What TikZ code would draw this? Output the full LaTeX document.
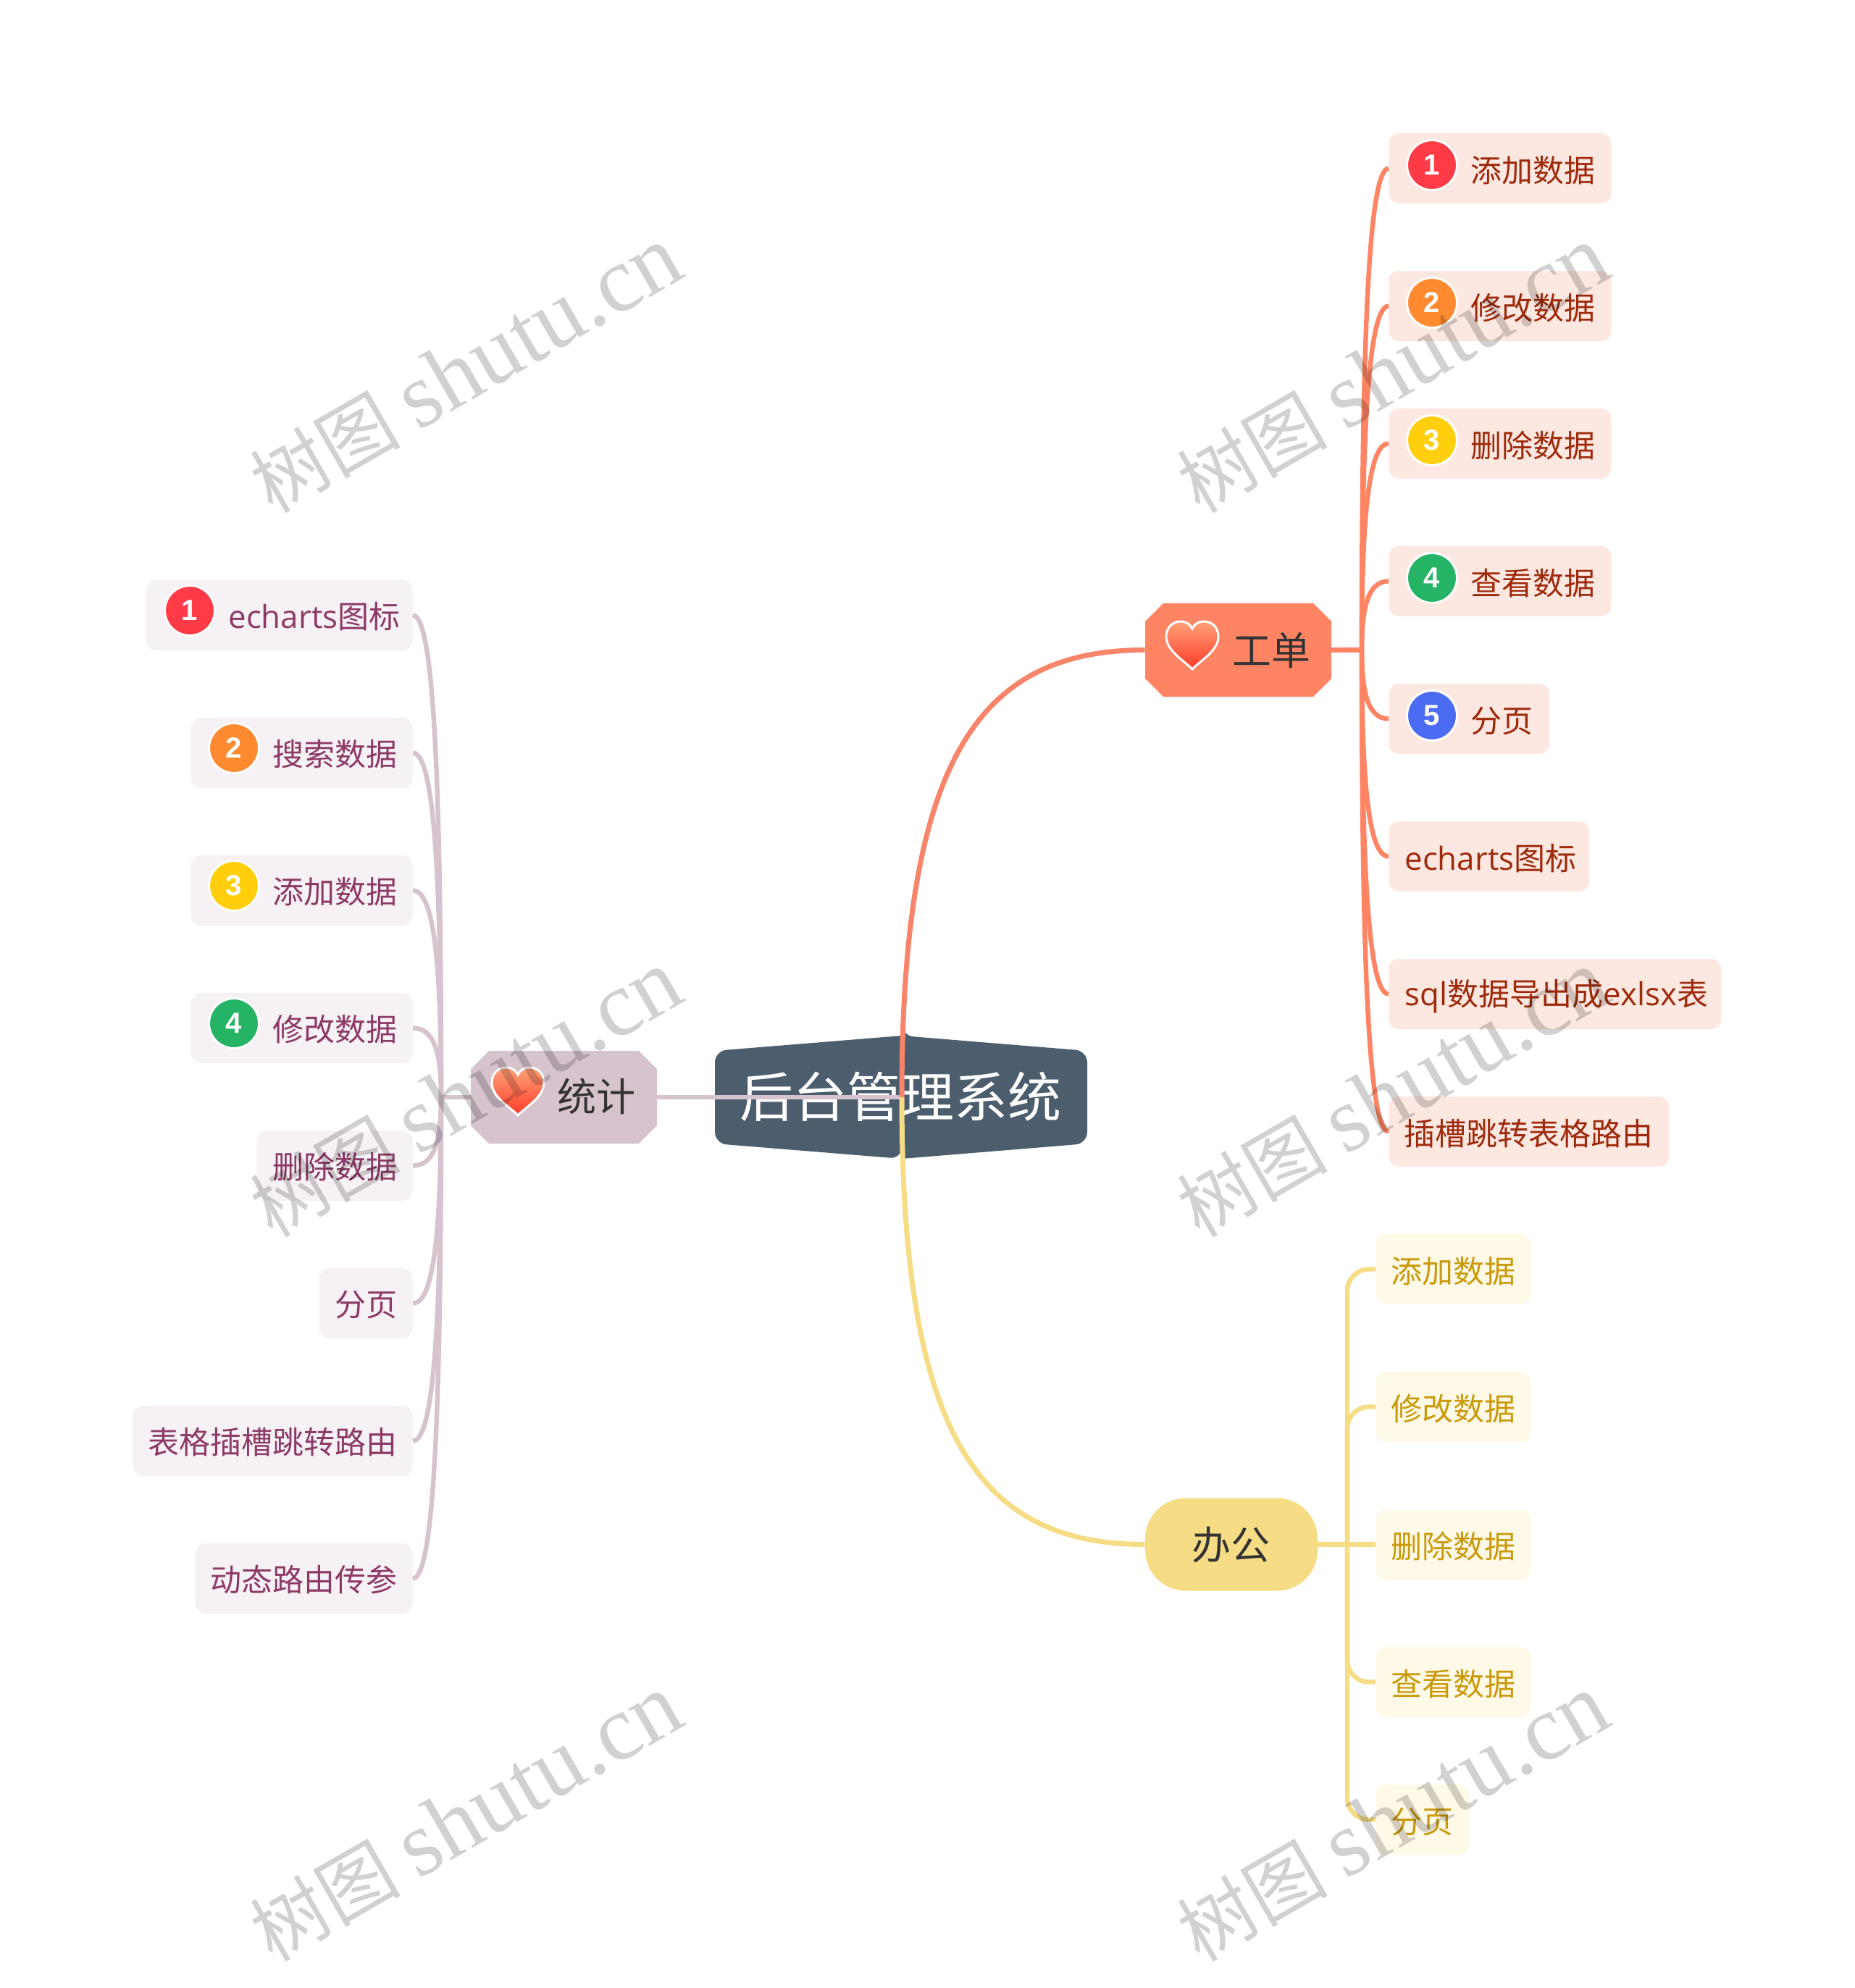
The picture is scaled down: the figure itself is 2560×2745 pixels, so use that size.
\documentclass[tikz,border=0pt]{standalone}
\usepackage{fontspec}
\setmainfont{Noto Sans CJK SC}
\newfontfamily\lat{Open Sans}[Scale=1.02]
\newfontfamily\wmlat{Liberation Serif}
\newfontfamily\badgefont{Liberation Sans}[BoldFont={Liberation Sans Bold}]
\usetikzlibrary{calc}
\definecolor{rootfill}{HTML}{4C5E6E}
\definecolor{coral}{HTML}{FF8464}
\definecolor{coralline}{HTML}{F8856A}
\definecolor{corallite}{HTML}{FDE8E1}
\definecolor{coraltext}{HTML}{9E2A0C}
\definecolor{pinkc}{HTML}{D6C3CD}
\definecolor{pinklite}{HTML}{F6F1F4}
\definecolor{pinktext}{HTML}{8C3A66}
\definecolor{yel}{HTML}{F6DC85}
\definecolor{yellite}{HTML}{FFF9E8}
\definecolor{yeltext}{HTML}{C99A0C}
\definecolor{bred}{HTML}{FF3B47}
\definecolor{borange}{HTML}{FF8A2F}
\definecolor{byellow}{HTML}{FFCF0D}
\definecolor{bgreen}{HTML}{25B366}
\definecolor{bblue}{HTML}{4A6BF2}
\definecolor{darktext}{HTML}{333333}
\tikzset{
  kidbox/.style={rectangle,rounded corners=7pt,inner sep=0pt,minimum height=48.5pt},
  kidtext/.style={inner sep=0pt,font=\fontsize{21.5}{26}\selectfont},
  branchtext/.style={inner sep=0pt,text=darktext,font=\fontsize{27}{32}\selectfont},
  badge/.style={circle,draw=white,line width=1.5pt,inner sep=0pt,minimum size=34.5pt,text=white,font=\badgefont\bfseries\fontsize{20}{22}\selectfont},
  link/.style={line width=3.2pt},
  wmark/.style={inner sep=0pt,anchor=base east,transform shape,text=black,text opacity=0.18},
}
% right coral child: name, centre y, right edge, text, text left x
\newcommand{\rkid}[5]{%
  \node[kidbox,fill=corallite,anchor=west,minimum width={(#3-1917)*0.5pt}] (#1) at (1917,#2) {};
  \node[kidtext,text=coraltext,anchor=west] (#1t) at (#5,#2+3) {#4};
  \draw[link,coral] (busR) .. controls (1880,{#2+0.4*(897.5-#2)}) and (1888,#2) .. (#1.west);
}
% left pink child: name, centre y, left edge, text, text right x
\newcommand{\lkid}[5]{%
  \node[kidbox,fill=pinklite,anchor=east,minimum width={(570-#3)*0.5pt}] (#1) at (570,#2) {};
  \node[kidtext,text=pinktext,anchor=east] (#1t) at (#5,#2+2) {#4};
  \draw[link,pinkc] (busL) .. controls (609,{#2+0.4*(1515-#2)}) and (601,#2) .. (#1.east);
}
% right yellow child: name, centre y, right edge, text
\newcommand{\ykid}[4]{%
  \node[kidbox,fill=yellite,anchor=west,minimum width={(#3-1899)*0.5pt}] (#1) at (1899,#2) {};
  \node[kidtext,text=yeltext,anchor=west] (#1t) at (1920,#2+3) {#4};
}
\definecolor{heartTop}{HTML}{FFA278}
\definecolor{heartBot}{HTML}{FF3A28}
\newcommand{\heartat}[3]{%
  \shadedraw[shift={(#1,#2)},scale=#3,top color=heartTop,bottom color=heartBot,draw=white,line width=1.5pt]
   (0,33) .. controls (-10,22) and (-36,8) .. (-36,-12)
   .. controls (-36,-26) and (-26,-33) .. (-16,-33)
   .. controls (-8,-33) and (-3,-29) .. (0,-23)
   .. controls (3,-29) and (8,-33) .. (16,-33)
   .. controls (26,-33) and (36,-26) .. (36,-12)
   .. controls (36,8) and (10,22) .. (0,33) -- cycle;
}
\newcommand{\wmat}[3]{%
  \begin{scope}[shift={(#1,#2)},rotate=30]
   \node[wmark] (#3) at (0,0) {\fontsize{52}{60}\selectfont 树图 \wmlat\fontsize{64}{70}\selectfont shutu.cn};
  \end{scope}
}
\begin{document}
\begin{tikzpicture}[x=0.5pt,y=-0.5pt]
\useasboundingbox (0,0) rectangle (2560,2745);

% root
\fill[rootfill,rounded corners=8pt] (987,1451) -- (987,1579) -- (1245,1600) [sharp corners] -- (1245,1600) [rounded corners=8pt] -- (1501,1579) -- (1501,1451) -- (1245,1430) [sharp corners] -- (1245,1430) [rounded corners=8pt] -- cycle;
\node[inner sep=0pt,text=white,font=\fontsize{37}{44}\selectfont] (root) at (1243,1514) {后台管理系统};

% branch shapes
\fill[coral] (1581,858) -- (1606,833) -- (1813,833) -- (1838,858) -- (1838,937) -- (1813,962) -- (1606,962) -- (1581,937) -- cycle;
\node[inner sep=0pt,minimum width=128.5pt,minimum height=64.5pt] (gong) at (1709.5,897.5) {};
\heartat{1646}{891}{1}
\node[branchtext] (gongt) at (1755,898) {工单};

\fill[pinkc] (650,1476) -- (675,1451) -- (882,1451) -- (907,1476) -- (907,1554) -- (882,1579) -- (675,1579) -- (650,1554) -- cycle;
\node[inner sep=0pt,minimum width=128.5pt,minimum height=64pt] (tong) at (778.5,1515) {};
\heartat{715}{1507}{1}
\node[branchtext] (tongt) at (823,1514) {统计};

\node[rectangle,rounded corners=28pt,fill=yel,inner sep=0pt,minimum width=119pt,minimum height=64pt] (ban) at (1700,2132.5) {};
\node[branchtext] (bant) at (1699,2133) {办公};

% buses
\coordinate (busR) at (1880,897.5);
\coordinate (busL) at (609,1515);
\coordinate (busY) at (1860,2132.5);

% right children
\rkid{r1}{232.5}{2224}{添加数据}{2030}
\rkid{r2}{422.5}{2224}{修改数据}{2030}
\rkid{r3}{612.5}{2224}{删除数据}{2030}
\rkid{r4}{802.5}{2224}{查看数据}{2030}
\rkid{r5}{992.5}{2139}{分页}{2030}
\rkid{r6}{1182.5}{2194}{{\lat echarts}图标}{1939}
\rkid{r7}{1372.5}{2376}{{\lat sql}数据导出成{\lat exlsx}表}{1939}
\rkid{r8}{1562.5}{2304}{插槽跳转表格路由}{1938}
\draw[link,coral] (gong.east) -- (busR);

\node[badge,fill=bred] (rb1) at (1977,228) {1};
\node[badge,fill=borange] (rb2) at (1977,418) {2};
\node[badge,fill=byellow] (rb3) at (1977,608) {3};
\node[badge,fill=bgreen] (rb4) at (1977,798) {4};
\node[badge,fill=bblue] (rb5) at (1977,988) {5};

% left children
\lkid{l1}{849.5}{202}{{\lat echarts}图标}{553}
\lkid{l2}{1039.5}{264}{搜索数据}{549}
\lkid{l3}{1229.5}{264}{添加数据}{549}
\lkid{l4}{1419.5}{264}{修改数据}{549}
\lkid{l5}{1609.5}{355}{删除数据}{549}
\lkid{l6}{1799.5}{441}{分页}{549}
\lkid{l7}{1989.5}{184}{表格插槽跳转路由}{549}
\lkid{l8}{2179.5}{270}{动态路由传参}{549}
\draw[link,pinkc] (tong.west) -- (busL);

\node[badge,fill=bred] (lb1) at (262,843) {1};
\node[badge,fill=borange] (lb2) at (323,1033) {2};
\node[badge,fill=byellow] (lb3) at (323,1223) {3};
\node[badge,fill=bgreen] (lb4) at (323,1413) {4};

% yellow children
\ykid{y1}{1752.5}{2113}{添加数据}
\ykid{y2}{1942.5}{2113}{修改数据}
\ykid{y3}{2132.5}{2113}{删除数据}
\ykid{y4}{2322.5}{2113}{查看数据}
\ykid{y5}{2512.5}{2028}{分页}
\draw[link,yel] (ban.east) -- (y3.west);
\draw[link,yel,rounded corners=15pt] (busY) |- (y1.west);
\draw[link,yel,rounded corners=15pt] (busY) |- (y2.west);
\draw[link,yel,rounded corners=15pt] (busY) |- (y4.west);
\draw[link,yel,rounded corners=15pt] (busY) |- (y5.west);

% main connectors
\coordinate (hub) at (1245,1515);
\draw[link,pinkc] (tong.east) -- (hub);
\draw[link,coralline,line width=3.5pt] (hub) .. controls (1245,1050) and (1350,897.5) .. (gong.west);
\draw[link,yel,line width=3.5pt] (hub) .. controls (1245,1980) and (1350,2132.5) .. (ban.west);

% watermarks
\wmat{950}{380}{wa}
\wmat{2230}{380}{wb}
\wmat{950}{1380}{wc}
\wmat{2230}{1380}{wd}
\wmat{950}{2380}{we}
\wmat{2230}{2380}{wf}
\end{tikzpicture}
\end{document}
